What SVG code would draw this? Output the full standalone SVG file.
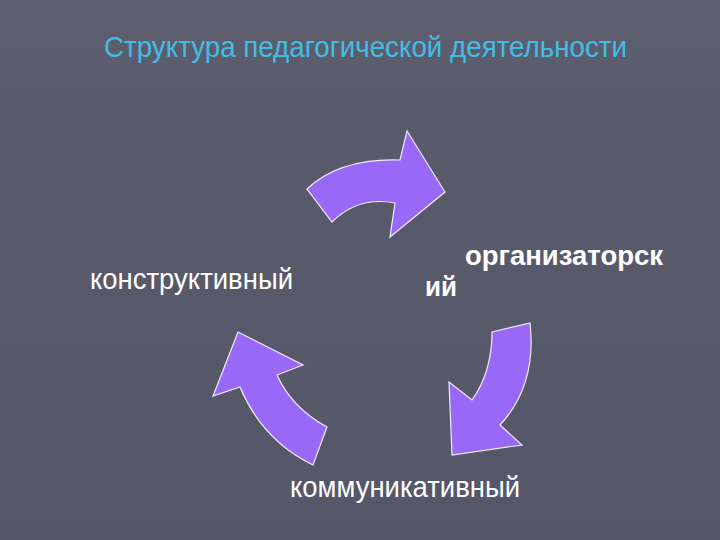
<svg xmlns="http://www.w3.org/2000/svg" width="720" height="540" viewBox="0 0 720 540">
<defs>
<linearGradient id="bg" x1="0" y1="0" x2="0" y2="1">
<stop offset="0" stop-color="#5e5f6e"/>
<stop offset="0.2" stop-color="#595b6b"/>
<stop offset="1" stop-color="#545768"/>
</linearGradient>
<style>
.arrow{fill:#9a68f6;stroke:#f2ecff;stroke-width:1.2;stroke-linejoin:miter}
.lbl{font-family:"Liberation Sans",Arial,sans-serif;fill:#ffffff}
.title{font-family:"Liberation Sans",Arial,sans-serif;fill:#44bde6;font-size:30px}
</style>
</defs>
<rect width="720" height="540" fill="url(#bg)"/>
<text class="title" x="104" y="57" textLength="523" lengthAdjust="spacingAndGlyphs">Структура педагогической деятельности</text>
<g id="connectors">
<path id="arrow-top" class="arrow" d="M307,189 Q340,158 400,160 L407,131 L445,192 L390,237 L395,203 Q358,196 332,222 Z"/>
<path id="arrow-right" class="arrow" d="M492,332 L530,323 Q537,385 500,425 L522,445 L452,455 L449,382 L472,400 Q492,372 492,332 Z"/>
<path id="arrow-left" class="arrow" d="M313,465 Q262,440 240,387 L213,396 L238,332 L303,365 L277,375 Q292,408 327,427 Z"/>
</g>
<g id="node-konstr">
<text class="lbl" x="90" y="289" font-size="29" textLength="203" lengthAdjust="spacingAndGlyphs">конструктивный</text>
</g>
<g id="node-org">
<text class="lbl" x="465" y="265" font-size="28" font-weight="bold" textLength="198" lengthAdjust="spacingAndGlyphs">организаторск</text>
<text class="lbl" x="425" y="296" font-size="28" font-weight="bold" textLength="32" lengthAdjust="spacingAndGlyphs">ий</text>
</g>
<g id="node-komm">
<text class="lbl" x="290" y="497" font-size="29" textLength="230" lengthAdjust="spacingAndGlyphs">коммуникативный</text>
</g>
</svg>
